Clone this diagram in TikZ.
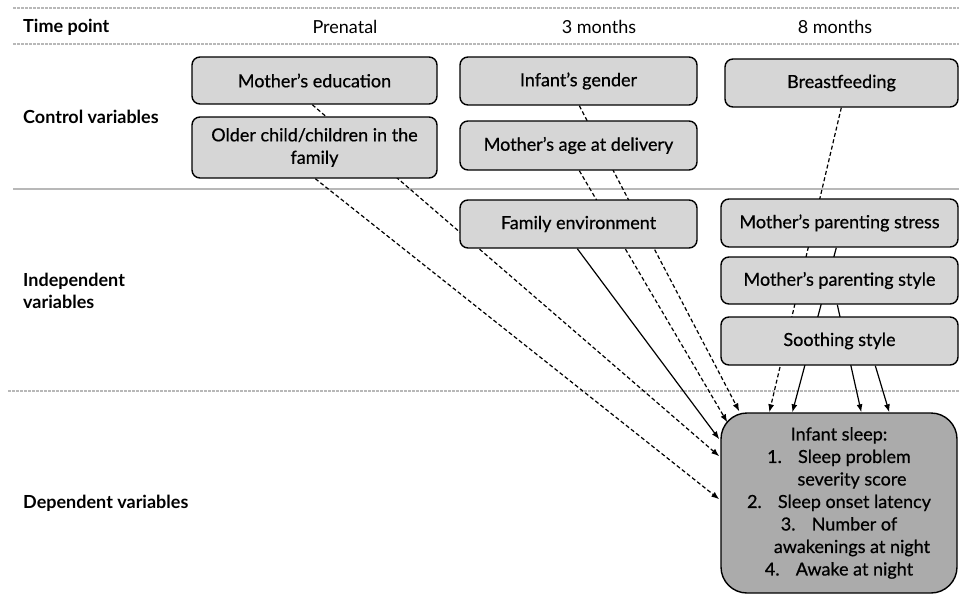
\documentclass[tikz,border=0pt]{standalone}
\usepackage{fontspec}
\setmainfont{Lato}
\newfontfamily\medfont{Lato}[FakeBold=0.6]
\usetikzlibrary{arrows.meta,calc,backgrounds}
\definecolor{boxfill}{HTML}{D6D6D6}
\definecolor{sleepfill}{HTML}{ABABAB}
\definecolor{rule}{HTML}{B8B8B8}
\tikzset{
  every node/.style={font=\fontsize{18}{22.5}\selectfont\medfont},
  varbox/.style={draw=black, line width=1.4pt, fill=boxfill, rounded corners=8pt, inner sep=2pt, align=center},
  sleepbox/.style={draw=black, line width=1.4pt, fill=sleepfill, rounded corners=26pt, inner sep=2pt, align=center},
  rowlabel/.style={anchor=west, inner sep=0pt, font=\fontsize{18}{22.5}\selectfont\bfseries, align=left},
  colhead/.style={font=\fontsize{18}{22.5}\selectfont},
  sep/.style={draw=rule, line width=1.3pt},
  sepd/.style={draw=rule, line width=1.3pt, dash pattern=on 3pt off 1pt},
  dep/.style={-{Latex[length=8pt,width=6pt]}, line width=1.2pt, dash pattern=on 4pt off 2.5pt},
  sol/.style={-{Latex[length=8pt,width=6pt]}, line width=1.2pt}
}
\begin{document}
\begin{tikzpicture}[x=1pt,y=-1pt]
\useasboundingbox (0,0) rectangle (959,610);
% headers
\node[rowlabel] (tp) at (23,27) {Time point};
\node[colhead] (pre) at (345,27) {Prenatal};
\node[colhead] (m3) at (599,27) {3 months};
\node[colhead] (m8) at (835,27) {8 months};
\node[rowlabel] (ctrl) at (23,117) {Control variables};
\node[rowlabel] (indep) at (23,291) {Independent\\variables};
\node[rowlabel] (depv) at (23,503) {Dependent variables};
% boxes
\node[varbox, minimum width=245pt, minimum height=47pt] (edu) at (314.5,80.5) {Mother’s education};
\node[varbox, minimum width=245pt, minimum height=61pt] (older) at (314.5,147.5) {Older child/children in the\\family};
\node[varbox, minimum width=237pt, minimum height=48pt] (gender) at (578.5,81) {Infant’s gender};
\node[varbox, minimum width=237pt, minimum height=49pt] (age) at (578.5,145.5) {Mother’s age at delivery};
\node[varbox, minimum width=233pt, minimum height=48pt] (breast) at (841.5,83) {Breastfeeding};
\node[varbox, minimum width=237pt, minimum height=48pt] (family) at (578.5,224) {Family environment};
\node[varbox, minimum width=237pt, minimum height=48pt] (stress) at (839.5,223) {Mother’s parenting stress};
\node[varbox, minimum width=237pt, minimum height=47pt] (pstyle) at (839.5,280.5) {Mother’s parenting style};
\node[varbox, minimum width=237pt, minimum height=48pt] (sooth) at (839.5,341) {Soothing style};
\node[sleepbox, minimum width=236pt, minimum height=180pt] (sleep) at (839,503) {Infant sleep:\\1.\hspace{0.9em}Sleep problem\\\hspace*{26pt}severity score\\2.\hspace{0.9em}Sleep onset latency\\3.\hspace{0.9em}Number of\\\hspace*{26pt}awakenings at night\\4.\hspace{0.9em}Awake at night};
\begin{pgfonlayer}{background}
% separators
\coordinate (l0) at (13,8);  \coordinate (r0) at (959,8);
\coordinate (l1) at (13,44); \coordinate (r1) at (959,44);
\coordinate (l2) at (13,189); \coordinate (r2) at (959,189);
\coordinate (l3) at (8,391); \coordinate (r3) at (959,391);
\draw[sepd] (l0) -- (r0);
\draw[sepd] (l1) -- (r1);
\draw[sep] (l2) -- (r2);
\draw[sepd] (l3) -- (r3);
% connectors
\draw[dep] ($(edu.south west)+(121,0)$) -- ($(sleep.north west)+(-1,44)$);
\draw[dep] ($(older.south west)+(124,0)$) -- ($(sleep.north west)+(-1,87)$);
\draw[dep] ($(gender.south west)+(120,0)$) -- ($(sleep.north west)+(19,-1)$);
\draw[dep] ($(age.south west)+(120,0)$) -- ($(sleep.north west)+(7,10)$);
\draw[sol] ($(family.south west)+(118,0)$) -- ($(sleep.north west)+(-1,27)$);
\draw[dep] ($(breast.south west)+(117,0)$) -- ($(sleep.north west)+(49,0)$);
\draw[sol] ($(stress.south west)+(116,0)$) -- ($(sleep.north west)+(72,0)$);
\draw[sol] ($(pstyle.south west)+(117,0)$) -- ($(sleep.north west)+(141,0)$);
\draw[sol] ($(sooth.south west)+(155,0)$) -- ($(sleep.north west)+(169,0)$);
\end{pgfonlayer}
\end{tikzpicture}
\end{document}
